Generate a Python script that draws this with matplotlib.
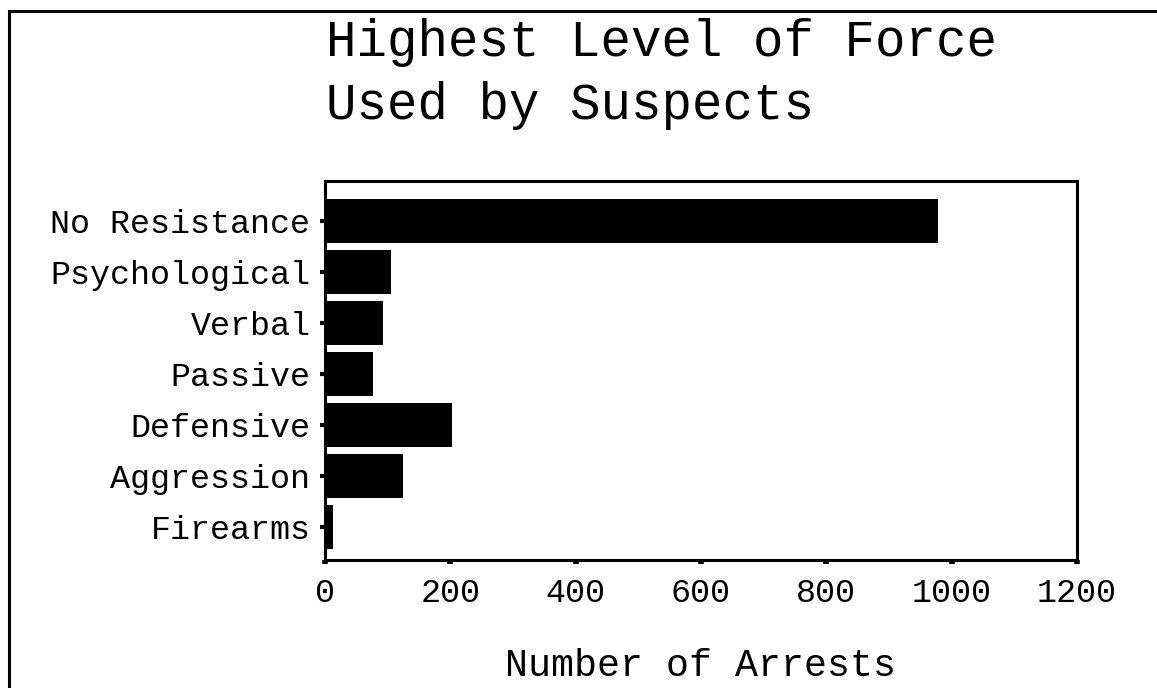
import matplotlib
matplotlib.use("Agg")
import matplotlib.pyplot as plt
from matplotlib.lines import Line2D

# Data
categories = ["No Resistance", "Psychological", "Verbal", "Passive",
              "Defensive", "Aggression", "Firearms"]
arrests = [978, 105, 92, 76, 202, 125, 12]
x_ticks = [0, 200, 400, 600, 800, 1000, 1200]

plt.rcParams['font.family'] = ['Courier New', 'Nimbus Mono PS', 'Liberation Mono', 'DejaVu Sans Mono']

fig = plt.figure(figsize=(11.57, 6.88), dpi=100)
ax = fig.add_axes([0.2809, 0.186, 0.6499, 0.5509])

pos = list(range(len(categories)))
ax.barh(pos, arrests, height=0.86, color='black')

ax.set_xlim(0, 1200)
ax.set_ylim(6.65, -0.78)
ax.set_yticks(pos)
ax.set_yticklabels(categories)
ax.set_xticks(x_ticks)
ax.set_xticklabels([str(v) for v in x_ticks])

ax.tick_params(axis='y', direction='out', length=3.5, width=3, pad=7, labelsize=24)
ax.tick_params(axis='x', direction='out', length=3, width=4, pad=10, labelsize=24)
for s in ax.spines.values():
    s.set_linewidth(2.2)

ax.set_xlabel("Number of Arrests", fontsize=27.5, labelpad=28)

# two-line title, left aligned with the plot area
fig.text(326 / 1157, 1 - 56 / 688, "Highest Level of Force", fontsize=36.5, va='baseline', ha='left')
fig.text(326 / 1157, 1 - 119 / 688, "Used by Suspects", fontsize=36.5, va='baseline', ha='left')

# outer frame (top and left edges visible)
fig.add_artist(Line2D([9 / 1157, 1.0], [1 - 11 / 688, 1 - 11 / 688], color='black', lw=2.2, transform=fig.transFigure))
fig.add_artist(Line2D([9 / 1157, 9 / 1157], [0.0, 1 - 11 / 688], color='black', lw=2.2, transform=fig.transFigure))

fig.savefig("out.png", dpi=100)
